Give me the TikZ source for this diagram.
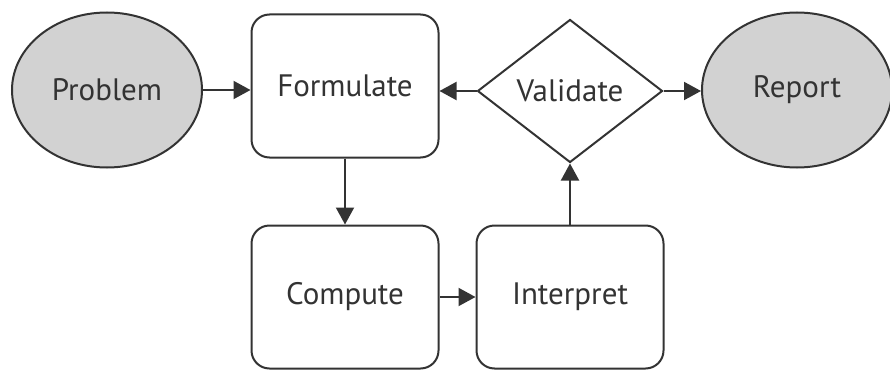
\documentclass[tikz,border=0pt]{standalone}
\usepackage{fontspec}
\setmainfont{PT Sans}
\usetikzlibrary{shapes.geometric,arrows.meta}

\begin{document}
\begin{tikzpicture}[x=1pt,y=-1pt,%%
  boxStyle/.style={draw=lineGray,line width=2pt,fill=white,rounded corners=18pt,text=textGray,%%
    minimum width=\boxWidth pt,minimum height=\boxHeight pt,font=\fontsize{31}{35}\selectfont},%%
  endStyle/.style={draw=lineGray,line width=2pt,fill=endGray,ellipse,inner sep=0pt,text=textGray,%%
    minimum width=190pt,minimum height=155pt,font=\fontsize{31}{35}\selectfont},%%
  decisionStyle/.style={draw=lineGray,line width=2pt,fill=white,diamond,inner sep=0pt,text=textGray,%%
    minimum width=185pt,minimum height=143pt,font=\fontsize{31}{35}\selectfont},%%
  arrowStyle/.style={-{Triangle[length=17pt,width=18pt]},line width=2pt,draw=lineGray,fill=lineGray}%%
]
%%
\definecolor{lineGray}{HTML}{333333}
\definecolor{endGray}{HTML}{D2D2D2}
\definecolor{textGray}{HTML}{333333}
%%
\pgfmathsetmacro{\boxWidth}{187}
\pgfmathsetmacro{\boxHeight}{143}
%%
\useasboundingbox (0,0) rectangle (890,369);
%%
%% Top row.
\node[endStyle] (problem) at (107,90) {Problem};
\node[boxStyle] (formulate) at (345,86) {Formulate};
\node[decisionStyle] (validate) at (570,91) {Validate};
\node[endStyle] (report) at (797,90) {Report};
%% Bottom row.
\node[boxStyle] (compute) at (345,297) {Compute};
\node[boxStyle] (interpret) at (570,297) {Interpret};
%%
%% Connectors.
\draw[arrowStyle] (problem.east) -- (problem.east -| formulate.west);
\draw[arrowStyle] (validate.west) -- (validate.west -| formulate.east);
\draw[arrowStyle] (validate.east) -- (validate.east -| report.west);
\draw[arrowStyle] (formulate.south) -- (compute.north);
\draw[arrowStyle] (compute.east) -- (interpret.west);
\draw[arrowStyle] (interpret.north) -- (validate.south);
\end{tikzpicture}
\end{document}
